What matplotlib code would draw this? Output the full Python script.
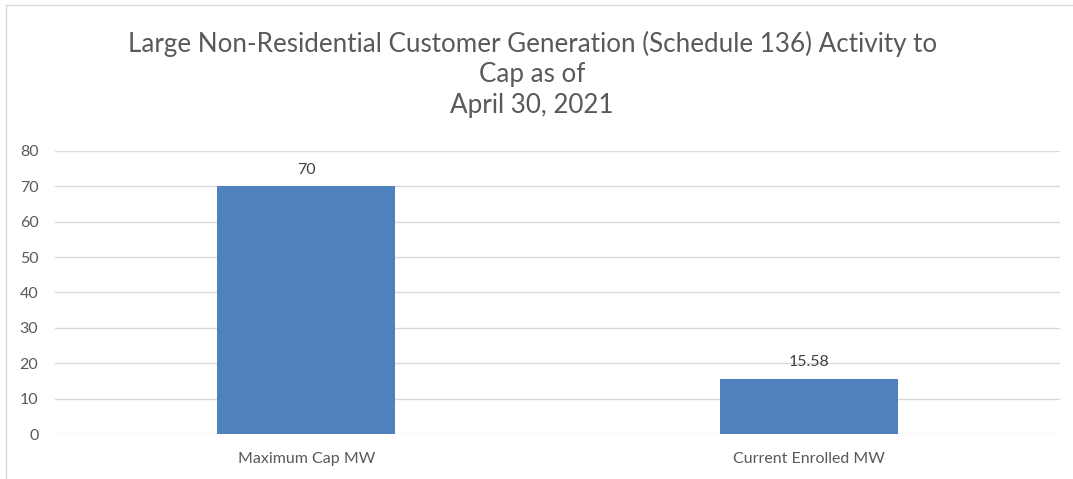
import matplotlib.pyplot as plt
from matplotlib.patches import Rectangle

categories = ['Maximum Cap MW', 'Current Enrolled MW']
values = [70, 15.58]
value_labels = ['70', '15.58']
yticks = [0, 10, 20, 30, 40, 50, 60, 70, 80]

plt.rcParams['font.family'] = ['Lato', 'DejaVu Sans']
grey = '#595959'

fig = plt.figure(figsize=(10.73, 4.79), dpi=100)
ax = fig.add_axes([0.0513, 0.0939, 0.9366, 0.591])

x = range(len(categories))
ax.bar(x, values, width=0.354, color='#4F81BD', zorder=3)
for xi, v, lab in zip(x, values, value_labels):
	ax.annotate(lab, (xi, v), xytext=(0, 7), textcoords='offset points',
		ha='center', va='bottom', fontsize=11.5, color='#404040')

ax.set_xlim(-0.5, 1.5)
ax.set_ylim(0, 80)
ax.set_yticks(yticks)
ax.set_xticks(list(x))
ax.set_xticklabels(categories)
ax.grid(axis='y', color='#D9D9D9', linewidth=1, zorder=0)
for s in ax.spines.values():
	s.set_visible(False)
ax.tick_params(axis='both', length=0, labelsize=11.5, labelcolor=grey)
ax.tick_params(axis='y', pad=12)
ax.tick_params(axis='x', pad=13)

fig.text(0.496, 0.845, 'Large Non-Residential Customer Generation (Schedule 136) Activity to\nCap as of\nApril 30, 2021',
	ha='center', va='center', fontsize=18.7, color=grey, linespacing=1.27)

# chart frame
fig.patches.append(Rectangle((6/1073, -0.01), 1.0, 1 - 5/479 + 0.01, transform=fig.transFigure,
	fill=False, edgecolor='#D9D9D9', linewidth=1))

fig.savefig('out.png', dpi=100)
